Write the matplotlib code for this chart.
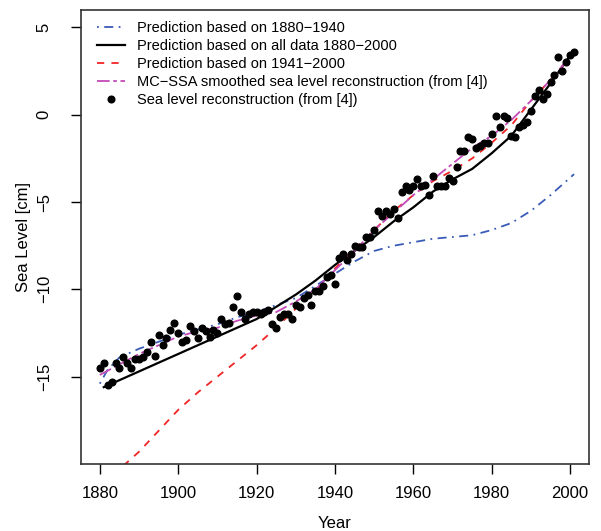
import numpy as np
import matplotlib

matplotlib.use("Agg")
import matplotlib.pyplot as plt
from matplotlib.lines import Line2D

plt.rcParams["font.family"] = ["Liberation Sans", "DejaVu Sans"]

# sea level reconstruction (annual points, cm)
obs_years = list(range(1880, 2002))
obs_level = [
    -14.5, -14.2, -15.5, -15.3, -14.2, -14.5, -13.9, -14.2, -14.5, -14.0,
    -14.0, -13.9, -13.6, -13.0, -13.8, -12.6, -13.2, -12.8, -12.3, -11.9,
    -12.5, -13.0, -12.9, -12.1, -12.4, -12.8, -12.2, -12.4, -12.7, -12.3,
    -12.5, -11.7, -12.0, -11.9, -11.0, -10.4, -11.3, -11.7, -11.4, -11.3,
    -11.3, -11.4, -11.3, -11.2, -12.0, -12.2, -11.6, -11.4, -11.4, -11.7,
    -10.9, -11.0, -10.5, -10.3, -10.9, -10.1, -10.1, -9.8, -9.3, -9.2,
    -9.7, -8.2, -8.0, -8.3, -8.0, -7.5, -7.6, -7.6, -7.0, -7.0,
    -6.6, -5.5, -5.8, -5.5, -5.7, -5.4, -5.9, -4.4, -4.1, -4.3,
    -4.1, -3.7, -4.1, -4.0, -4.6, -3.5, -4.1, -4.1, -4.1, -3.6,
    -3.8, -3.0, -2.1, -2.1, -1.3, -1.4, -1.9, -1.8, -1.6, -1.6,
    -1.1, -0.1, -0.7, -0.1, -0.2, -1.2, -1.3, -0.7, -0.6, -0.4,
    0.2, 1.1, 1.4, 0.9, 1.2, 1.9, 2.3, 3.3, 2.5, 3.0,
    3.4, 3.6,
]

# prediction based on 1880-1940
early_years = [1880, 1882, 1885, 1890, 1895, 1900, 1905, 1910, 1915, 1920, 1925,
               1930, 1935, 1940, 1945, 1950, 1955, 1960, 1965, 1970, 1975, 1980,
               1985, 1990, 1995, 2000, 2001]
early_pred = [-15.4, -14.6, -13.9, -13.4, -13.0, -12.6, -12.3, -12.0, -11.6, -11.3,
              -10.9, -10.5, -9.8, -9.1, -8.4, -7.8, -7.5, -7.3, -7.1, -7.0, -6.9,
              -6.6, -6.2, -5.5, -4.6, -3.6, -3.4]

# prediction based on all data
all_years = [1881, 1885, 1890, 1895, 1900, 1905, 1910, 1915, 1920, 1925, 1930,
             1935, 1940, 1945, 1950, 1955, 1960, 1965, 1970, 1975, 1980, 1985,
             1990, 1995, 2000, 2001]
all_pred = [-15.6, -15.2, -14.7, -14.2, -13.7, -13.2, -12.7, -12.2, -11.7, -11.0,
            -10.3, -9.5, -8.6, -7.8, -7.0, -6.1, -5.3, -4.4, -3.7, -3.1, -2.2,
            -1.2, 0.3, 1.8, 3.4, 3.6]

# prediction based on 1941-2000
late_years = [1886, 1890, 1895, 1900, 1905, 1910, 1915, 1920, 1925, 1930, 1935,
              1940, 1945, 1950, 1955, 1960, 1965, 1970, 1975, 1980, 1985, 1990,
              1995, 2000, 2001]
late_pred = [-20.1, -19.3, -18.1, -16.9, -15.9, -15.0, -14.1, -13.2, -12.2, -11.1,
             -10.1, -8.8, -7.7, -6.6, -5.5, -4.6, -3.8, -3.2, -2.5, -1.6, -0.6,
             0.8, 2.0, 3.3, 3.5]

# MC-SSA smoothed reconstruction
ssa_years = [1880, 1885, 1890, 1895, 1900, 1905, 1910, 1915, 1920, 1925, 1930,
             1935, 1940, 1945, 1950, 1955, 1960, 1965, 1970, 1975, 1980, 1985,
             1990, 1995, 2000, 2001]
ssa_level = [-14.9, -14.3, -13.7, -13.2, -12.7, -12.4, -12.2, -11.8, -11.5, -11.3,
             -10.7, -10.0, -8.9, -7.8, -6.6, -5.6, -4.6, -3.7, -2.8, -1.9, -1.2,
             -0.3, 0.8, 2.0, 3.3, 3.6]

BLUE = "#3a5bb8"
RED = "#f02424"
MAGENTA = "#c44ab8"
blue_ls = (0, (1, 3, 5, 3))
red_ls = (0, (4, 4))
mag_ls = (0, (7, 2, 2, 2))
FS = 12
LEG_FS = 10.5

fig = plt.figure(figsize=(6.01, 5.31), dpi=100)
ax = fig.add_axes([0.1348, 0.1262, 0.8452, 0.855])

ax.plot(early_years, early_pred, color=BLUE, lw=1.3, ls=blue_ls)
ax.plot(all_years, all_pred, color="black", lw=1.6)
ax.plot(late_years, late_pred, color=RED, lw=1.3, ls=red_ls)
ax.plot(ssa_years, ssa_level, color=MAGENTA, lw=1.3, ls=mag_ls)
ax.plot(obs_years, obs_level, "o", color="black", ms=4.8, mec="black")

ax.set_xlim(1875.2, 2004.8)
ax.set_ylim(-20, 6)
ax.set_xticks([1880, 1900, 1920, 1940, 1960, 1980, 2000])
ax.set_yticks([-15, -10, -5, 0, 5])
ax.tick_params(direction="out", length=7, width=1, labelsize=FS)
ax.tick_params(axis="x", pad=9)
ax.tick_params(axis="y", pad=14)
for lab in ax.get_yticklabels():
    lab.set_rotation(90)
    lab.set_va("center")
for s in ax.spines.values():
    s.set_linewidth(1.2)
    s.set_color("#333333")

ax.set_xlabel("Year", fontsize=FS, labelpad=11)
ax.set_ylabel("Sea Level [cm]", fontsize=FS, labelpad=4)

handles = [
    Line2D([], [], color=BLUE, lw=1.3, ls=blue_ls),
    Line2D([], [], color="black", lw=1.6),
    Line2D([], [], color=RED, lw=1.3, ls=red_ls),
    Line2D([], [], color=MAGENTA, lw=1.3, ls=mag_ls),
    Line2D([], [], color="black", marker="o", ls="none", ms=4.8),
]
labels = [
    "Prediction based on 1880\u22121940",
    "Prediction based on all data 1880\u22122000",
    "Prediction based on 1941\u22122000",
    "MC\u2212SSA smoothed sea level reconstruction (from [4])",
    "Sea level reconstruction (from [4])",
]
ax.legend(handles, labels, loc="upper left", bbox_to_anchor=(0.012, 0.998),
          frameon=False, fontsize=LEG_FS, handlelength=1.9, handletextpad=0.8,
          labelspacing=0.27, borderaxespad=0.3)

fig.savefig("out.png", dpi=100)
